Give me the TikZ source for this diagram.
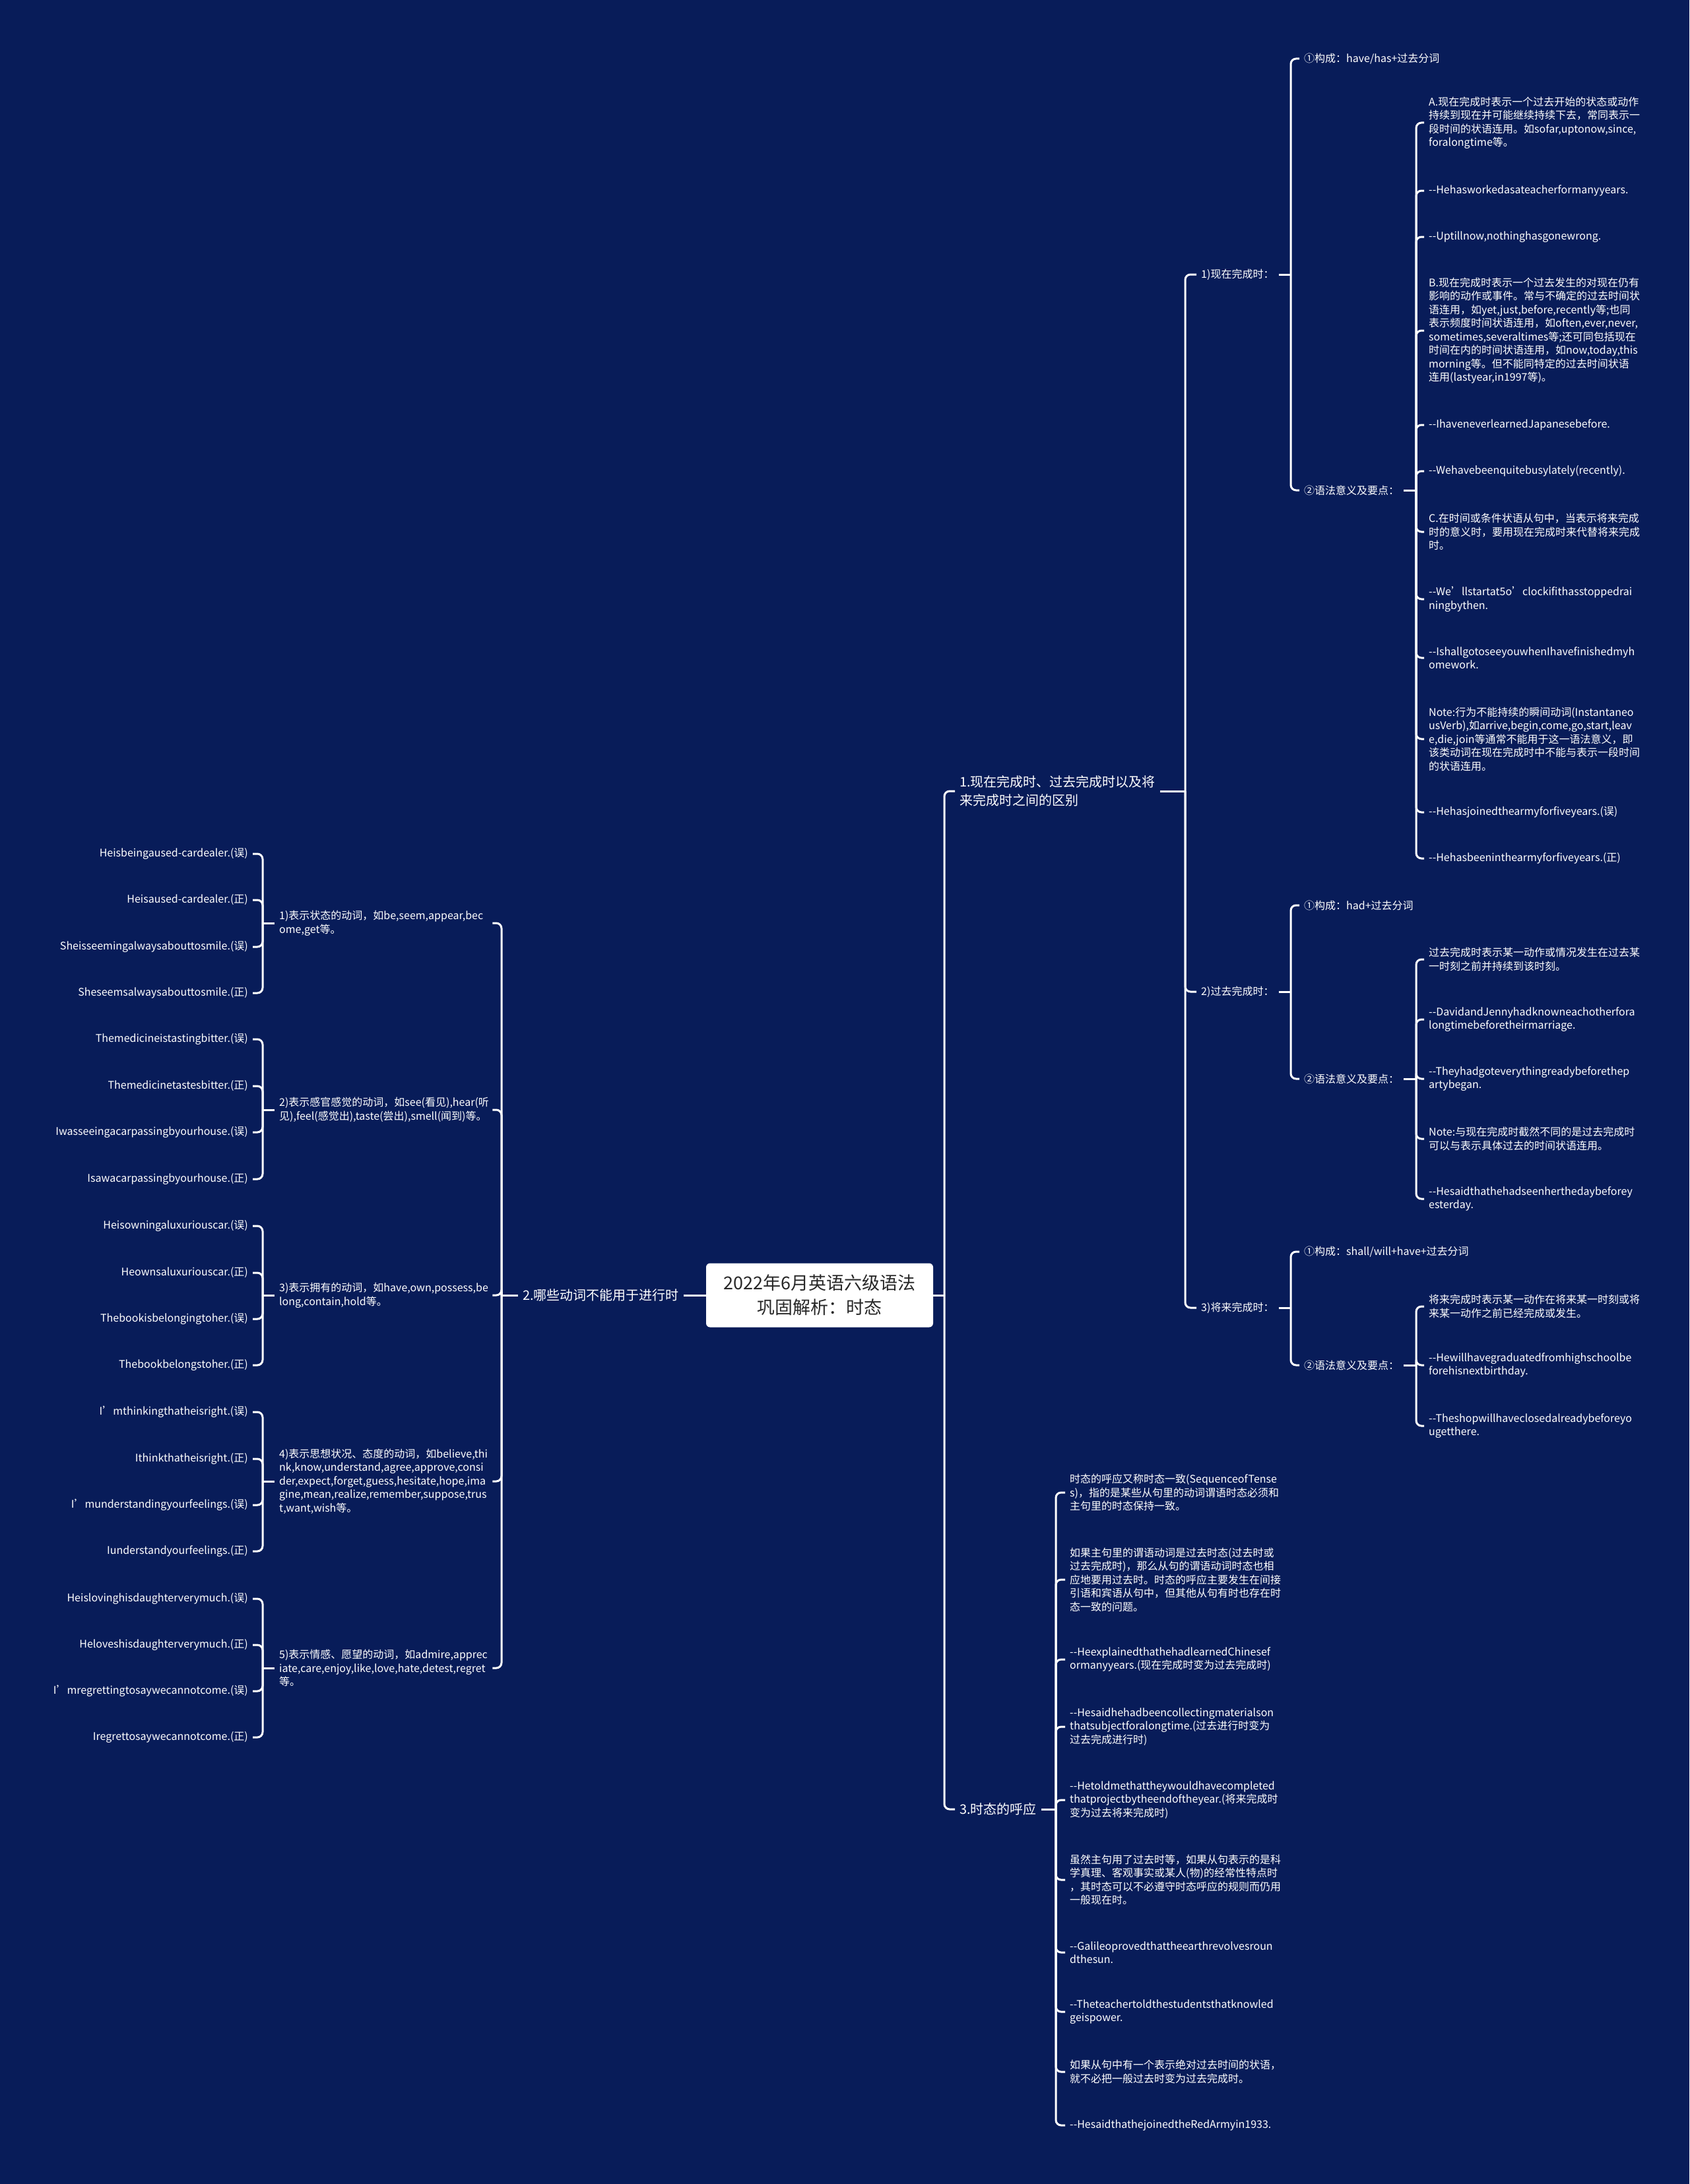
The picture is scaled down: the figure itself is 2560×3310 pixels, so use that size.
\documentclass[tikz,border=0pt]{standalone}
\usepackage{fontspec}
\setmainfont[Ligatures=TeXOff]{Noto Sans CJK SC}
\usepackage{xcolor}
\definecolor{bgnavy}{RGB}{8,28,89}
\definecolor{boxtext}{RGB}{40,40,40}
\tikzset{
  link/.style={draw=white, line width=3pt, rounded corners=8pt},
  root/.style={fill=white, rounded corners=6pt, text=boxtext, align=center,
    minimum width=344pt, minimum height=97pt, font=\fontsize{27}{37}\selectfont},
  topic/.style={text=white, align=left, inner xsep=7pt, inner ysep=2pt,
    font=\fontsize{20}{28}\selectfont},
  leaf/.style={text=white, align=left, inner xsep=7pt, inner ysep=2pt,
    font=\fontsize{16}{20.5}\selectfont},
}
\begin{document}
\begin{tikzpicture}[x=1pt,y=-1pt]
  \fill[bgnavy] (0,0) rectangle (2560,3310);
  \useasboundingbox (0,0) rectangle (2560,3310);

  % centre
  \node[root] (root) at (1242,1963) {2022年6月英语六级语法\\巩固解析：时态};

  \node[topic, anchor=west] (t1) at (1447,1199) {1.现在完成时、过去完成时以及将\\来完成时之间的区别};
  \node[topic, anchor=east] (t2) at (1036,1963) {2.哪些动词不能用于进行时};
  \node[topic, anchor=west] (t3) at (1447,2742) {3.时态的呼应};

  \draw[link] (root.east) -- (root.east -| 1431,0) coordinate (jr);
  \draw[link] (jr) |- (t1.west);
  \draw[link] (jr) |- (t3.west);
  \draw[link] (root.west) -- (t2.east);

  % 1. right side
  \node[leaf, anchor=west] (s1) at (1813,416) {1)现在完成时：};
  \node[leaf, anchor=west] (s2) at (1813,1503) {2)过去完成时：};
  \node[leaf, anchor=west] (s3) at (1813,1982) {3)将来完成时：};

  \draw[link] (t1.east) -- (t1.east -| 1796,0) coordinate (j1);
  \foreach \nd in {s1,s2,s3} \draw[link] (j1) |- (\nd.west);

  \node[leaf, anchor=west] (s1a) at (1969,89) {①构成：have/has+过去分词};
  \node[leaf, anchor=west] (s1b) at (1969,743) {②语法意义及要点：};
  \draw[link] (s1.east) -- (s1.east -| 1956,0) coordinate (j11);
  \foreach \nd in {s1a,s1b} \draw[link] (j11) |- (\nd.west);

  \node[leaf, anchor=west] (p1) at (2158,186) {A.现在完成时表示一个过去开始的状态或动作\\持续到现在并可能继续持续下去，常同表示一\\段时间的状语连用。如sofar,uptonow,since,\\foralongtime等。};
  \node[leaf, anchor=west] (p2) at (2158,289) {--Hehasworkedasateacherformanyyears.};
  \node[leaf, anchor=west] (p3) at (2158,359) {--Uptillnow,nothinghasgonewrong.};
  \node[leaf, anchor=west] (p4) at (2158,501) {B.现在完成时表示一个过去发生的对现在仍有\\影响的动作或事件。常与不确定的过去时间状\\语连用，如yet,just,before,recently等;也同\\表示频度时间状语连用，如often,ever,never,\\sometimes,severaltimes等;还可同包括现在\\时间在内的时间状语连用，如now,today,this\\morning等。但不能同特定的过去时间状语\\连用(lastyear,in1997等)。};
  \node[leaf, anchor=west] (p5) at (2158,644) {--IhaveneverlearnedJapanesebefore.};
  \node[leaf, anchor=west] (p6) at (2158,714) {--Wehavebeenquitebusylately(recently).};
  \node[leaf, anchor=west] (p7) at (2158,806) {C.在时间或条件状语从句中，当表示将来完成\\时的意义时，要用现在完成时来代替将来完成\\时。};
  \node[leaf, anchor=west] (p8) at (2158,908) {--We’llstartat5o’clockifithasstoppedrai\\ningbythen.};
  \node[leaf, anchor=west] (p9) at (2158,997) {--IshallgotoseeyouwhenIhavefinishedmyh\\omework.};
  \node[leaf, anchor=west] (p10) at (2158,1120) {Note:行为不能持续的瞬间动词(Instantaneo\\usVerb),如arrive,begin,come,go,start,leav\\e,die,join等通常不能用于这一语法意义，即\\该类动词在现在完成时中不能与表示一段时间\\的状语连用。};
  \node[leaf, anchor=west] (p11) at (2158,1231) {--Hehasjoinedthearmyforfiveyears.(误)};
  \node[leaf, anchor=west] (p12) at (2158,1301) {--Hehasbeeninthearmyforfiveyears.(正)};
  \draw[link] (s1b.east) -- (s1b.east -| 2146,0) coordinate (j12);
  \foreach \nd in {p1,p2,p3,p4,p5,p6,p7,p8,p9,p10,p11,p12} \draw[link] (j12) |- (\nd.west);

  \node[leaf, anchor=west] (s2a) at (1969,1372) {①构成：had+过去分词};
  \node[leaf, anchor=west] (s2b) at (1969,1635) {②语法意义及要点：};
  \draw[link] (s2.east) -- (s2.east -| 1956,0) coordinate (j21);
  \foreach \nd in {s2a,s2b} \draw[link] (j21) |- (\nd.west);

  \node[leaf, anchor=west] (q1) at (2158,1454) {过去完成时表示某一动作或情况发生在过去某\\一时刻之前并持续到该时刻。};
  \node[leaf, anchor=west] (q2) at (2158,1545) {--DavidandJennyhadknowneachotherfora\\longtimebeforetheirmarriage.};
  \node[leaf, anchor=west] (q3) at (2158,1635) {--Theyhadgoteverythingreadybeforethep\\artybegan.};
  \node[leaf, anchor=west] (q4) at (2158,1726) {Note:与现在完成时截然不同的是过去完成时\\可以与表示具体过去的时间状语连用。};
  \node[leaf, anchor=west] (q5) at (2158,1817) {--Hesaidthathehadseenherthedaybeforey\\esterday.};
  \draw[link] (s2b.east) -- (s2b.east -| 2146,0) coordinate (j22);
  \foreach \nd in {q1,q2,q3,q4,q5} \draw[link] (j22) |- (\nd.west);

  \node[leaf, anchor=west] (s3a) at (1969,1897) {①构成：shall/will+have+过去分词};
  \node[leaf, anchor=west] (s3b) at (1969,2069) {②语法意义及要点：};
  \draw[link] (s3.east) -- (s3.east -| 1956,0) coordinate (j31);
  \foreach \nd in {s3a,s3b} \draw[link] (j31) |- (\nd.west);

  \node[leaf, anchor=west] (r1) at (2158,1980) {将来完成时表示某一动作在将来某一时刻或将\\来某一动作之前已经完成或发生。};
  \node[leaf, anchor=west] (r2) at (2158,2069) {--Hewillhavegraduatedfromhighschoolbe\\forehisnextbirthday.};
  \node[leaf, anchor=west] (r3) at (2158,2161) {--Theshopwillhaveclosedalreadybeforeyo\\ugetthere.};
  \draw[link] (s3b.east) -- (s3b.east -| 2146,0) coordinate (j32);
  \foreach \nd in {r1,r2,r3} \draw[link] (j32) |- (\nd.west);

  % 3. bottom right
  \node[leaf, anchor=west] (h1) at (1614,2262) {时态的呼应又称时态一致(SequenceofTense\\s)，指的是某些从句里的动词谓语时态必须和\\主句里的时态保持一致。};
  \node[leaf, anchor=west] (h2) at (1614,2394) {如果主句里的谓语动词是过去时态(过去时或\\过去完成时)，那么从句的谓语动词时态也相\\应地要用过去时。时态的呼应主要发生在间接\\引语和宾语从句中，但其他从句有时也存在时\\态一致的问题。};
  \node[leaf, anchor=west] (h3) at (1614,2515) {--HeexplainedthathehadlearnedChinesef\\ormanyyears.(现在完成时变为过去完成时)};
  \node[leaf, anchor=west] (h4) at (1614,2617) {--Hesaidhehadbeencollectingmaterialson\\thatsubjectforalongtime.(过去进行时变为\\过去完成进行时)};
  \node[leaf, anchor=west] (h5) at (1614,2728) {--Hetoldmethattheywouldhavecompleted\\thatprojectbytheendoftheyear.(将来完成时\\变为过去将来完成时)};
  \node[leaf, anchor=west] (h6) at (1614,2849) {虽然主句用了过去时等，如果从句表示的是科\\学真理、客观事实或某人(物)的经常性特点时\\，其时态可以不必遵守时态呼应的规则而仍用\\一般现在时。};
  \node[leaf, anchor=west] (h7) at (1614,2959) {--Galileoprovedthattheearthrevolvesroun\\dthesun.};
  \node[leaf, anchor=west] (h8) at (1614,3049) {--Theteachertoldthestudentsthatknowled\\geispower.};
  \node[leaf, anchor=west] (h9) at (1614,3140) {如果从句中有一个表示绝对过去时间的状语，\\就不必把一般过去时变为过去完成时。};
  \node[leaf, anchor=west] (h10) at (1614,3221) {--HesaidthathejoinedtheRedArmyin1933.};
  \draw[link] (t3.east) -- (t3.east -| 1600,0) coordinate (j3);
  \foreach \nd in {h1,h2,h3,h4,h5,h6,h7,h8,h9,h10} \draw[link] (j3) |- (\nd.west);

  % 2. left side
  \node[leaf, anchor=west, text width=316pt] (v1) at (416,1399) {1)表示状态的动词，如be,seem,appear,bec\\ome,get等。};
  \node[leaf, anchor=west, text width=316pt] (v2) at (416,1682) {2)表示感官感觉的动词，如see(看见),hear(听\\见),feel(感觉出),taste(尝出),smell(闻到)等。};
  \node[leaf, anchor=west, text width=316pt] (v3) at (416,1963) {3)表示拥有的动词，如have,own,possess,be\\long,contain,hold等。};
  \node[leaf, anchor=west, text width=316pt] (v4) at (416,2245) {4)表示思想状况、态度的动词，如believe,thi\\nk,know,understand,agree,approve,consi\\der,expect,forget,guess,hesitate,hope,ima\\gine,mean,realize,remember,suppose,trus\\t,want,wish等。};
  \node[leaf, anchor=west, text width=316pt] (v5) at (416,2528) {5)表示情感、愿望的动词，如admire,apprec\\iate,care,enjoy,like,love,hate,detest,regret\\等。};
  \draw[link] (t2.west) -- (t2.west -| 760,0) coordinate (j2);
  \foreach \nd in {v1,v2,v3,v4,v5} \draw[link] (j2) |- (\nd.east);

  \node[leaf, anchor=east] (v1a) at (383,1294) {Heisbeingaused-cardealer.(误)};
  \node[leaf, anchor=east] (v1b) at (383,1364) {Heisaused-cardealer.(正)};
  \node[leaf, anchor=east] (v1c) at (383,1435) {Sheisseemingalwaysabouttosmile.(误)};
  \node[leaf, anchor=east] (v1d) at (383,1505) {Sheseemsalwaysabouttosmile.(正)};
  \draw[link] (v1.west) -- (v1.west -| 398,0) coordinate (jv1);
  \foreach \nd in {v1a,v1b,v1c,v1d} \draw[link] (jv1) |- (\nd.east);

  \node[leaf, anchor=east] (v2a) at (383,1575) {Themedicineistastingbitter.(误)};
  \node[leaf, anchor=east] (v2b) at (383,1646) {Themedicinetastesbitter.(正)};
  \node[leaf, anchor=east] (v2c) at (383,1716) {Iwasseeingacarpassingbyourhouse.(误)};
  \node[leaf, anchor=east] (v2d) at (383,1787) {Isawacarpassingbyourhouse.(正)};
  \draw[link] (v2.west) -- (v2.west -| 398,0) coordinate (jv2);
  \foreach \nd in {v2a,v2b,v2c,v2d} \draw[link] (jv2) |- (\nd.east);

  \node[leaf, anchor=east] (v3a) at (383,1858) {Heisowningaluxuriouscar.(误)};
  \node[leaf, anchor=east] (v3b) at (383,1929) {Heownsaluxuriouscar.(正)};
  \node[leaf, anchor=east] (v3c) at (383,1999) {Thebookisbelongingtoher.(误)};
  \node[leaf, anchor=east] (v3d) at (383,2069) {Thebookbelongstoher.(正)};
  \draw[link] (v3.west) -- (v3.west -| 398,0) coordinate (jv3);
  \foreach \nd in {v3a,v3b,v3c,v3d} \draw[link] (jv3) |- (\nd.east);

  \node[leaf, anchor=east] (v4a) at (383,2140) {I’mthinkingthatheisright.(误)};
  \node[leaf, anchor=east] (v4b) at (383,2211) {Ithinkthatheisright.(正)};
  \node[leaf, anchor=east] (v4c) at (383,2281) {I’munderstandingyourfeelings.(误)};
  \node[leaf, anchor=east] (v4d) at (383,2351) {Iunderstandyourfeelings.(正)};
  \draw[link] (v4.west) -- (v4.west -| 398,0) coordinate (jv4);
  \foreach \nd in {v4a,v4b,v4c,v4d} \draw[link] (jv4) |- (\nd.east);

  \node[leaf, anchor=east] (v5a) at (383,2423) {Heislovinghisdaughterverymuch.(误)};
  \node[leaf, anchor=east] (v5b) at (383,2493) {Heloveshisdaughterverymuch.(正)};
  \node[leaf, anchor=east] (v5c) at (383,2563) {I’mregrettingtosaywecannotcome.(误)};
  \node[leaf, anchor=east] (v5d) at (383,2633) {Iregrettosaywecannotcome.(正)};
  \draw[link] (v5.west) -- (v5.west -| 398,0) coordinate (jv5);
  \foreach \nd in {v5a,v5b,v5c,v5d} \draw[link] (jv5) |- (\nd.east);
\end{tikzpicture}
\end{document}
